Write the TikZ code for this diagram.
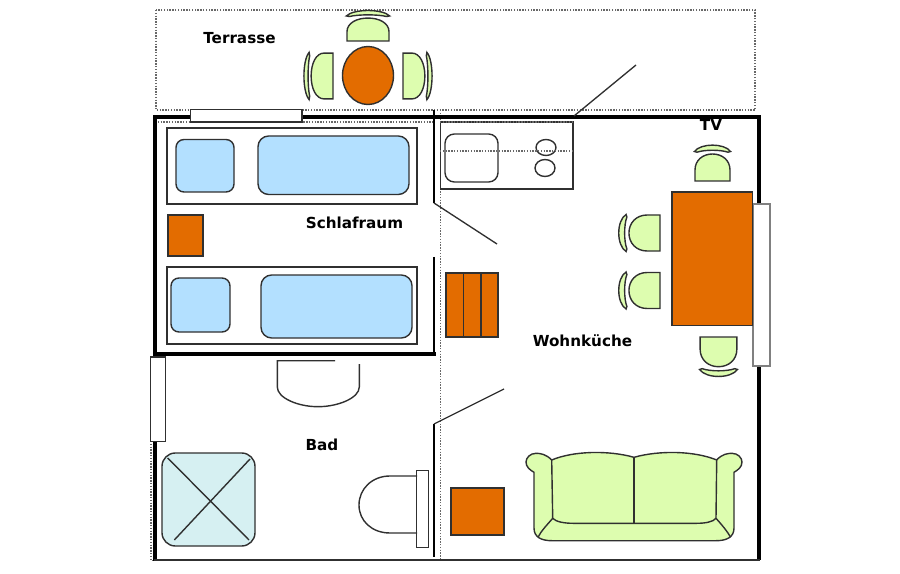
\documentclass[tikz,border=0pt]{standalone}
\usepackage{fontspec}
\setmainfont{DejaVu Sans}
\definecolor{orangef}{HTML}{E36C00}
\definecolor{greenf}{HTML}{DDFDAF}
\definecolor{bluef}{HTML}{B3E0FF}
\definecolor{showerf}{HTML}{D6F0F2}
\definecolor{ink}{HTML}{303030}
\definecolor{dotc}{HTML}{686868}
\tikzset{
  wall/.style={line width=2.6pt,black},
  thinwall/.style={line width=2.1pt,black},
  dotline/.style={line width=0.9pt,dotc,dash pattern=on 1pt off 1.1pt},
  outline/.style={line width=1.05pt,ink},
  orangebox/.style={outline,fill=orangef},
  greenbox/.style={outline,fill=greenf},
  bluebox/.style={outline,fill=bluef,rounded corners=6pt},
  windowbox/.style={line width=1pt,ink,fill=white},
  doorline/.style={line width=1pt,ink},
  roomlabel/.style={font=\bfseries\fontsize{11.4}{13}\selectfont,text=black,inner sep=0pt},
}
\newcommand{\chairat}[6]{%
  \begin{scope}[shift={(#1,#2)},rotate=#3,xscale=#4,yscale=#5]
    \draw[greenbox,#6] (-17.5,0) -- (17.5,0) -- (17.5,-11) .. controls (17.5,-21) and (9.5,-27) .. (0,-27) .. controls (-9.5,-27) and (-17.5,-21) .. (-17.5,-11) -- cycle;
    \draw[greenbox,#6] (-18,-29.5) .. controls (-12,-38) and (12,-38) .. (18,-29.5) -- (15.5,-28.8) .. controls (8,-31.4) and (-8,-31.4) .. (-15.5,-28.8) -- cycle;
  \end{scope}}
\begin{document}
\begin{tikzpicture}[x=0.75pt,y=-0.75pt]
\useasboundingbox (0,0) rectangle (900,574);
% dotted outlines
\draw[dotline] (156,10) rectangle (755,110);
\draw[dotline] (155,122) -- (434,122);
\draw[dotline] (440.5,110) -- (440.5,560);
\draw[dotline] (151,357) -- (151,560.5) -- (440,560.5);
% walls
\draw[wall] (155,117) -- (759,117);
\draw[wall] (155,115.5) -- (155,356);
\draw[wall] (153.5,354) -- (435.5,354);
\draw[wall] (155,440) -- (155,561);
\draw[wall] (759,115.5) -- (759,206);
\draw[wall] (759,364) -- (759,560);
\draw[thinwall] (434,110) -- (434,203);
\draw[thinwall] (434,257) -- (434,355);
\draw[thinwall] (434,424) -- (434,557);
\draw[line width=1.2pt,ink] (154,560) -- (760,560);
% doors
\draw[doorline] (574,116) -- (636,65);
\draw[doorline] (434,203) -- (497,244);
\draw[doorline] (434,424) -- (504,389);
% windows
\draw[windowbox] (190.5,109.5) rectangle (302,122);
\draw[windowbox] (150.5,357) rectangle (165.5,441.5);
\draw[windowbox,draw=gray] (753,204) rectangle (770,366);
% terrace table
\draw[orangebox] (368,75.5) ellipse [x radius=25.5,y radius=29];
\chairat{368}{41}{0}{1.2}{0.85}{}
\chairat{333}{76}{90}{1.31}{0.81}{}
\chairat{403}{76}{-90}{1.31}{0.81}{}
% beds
\draw[outline] (167,128) rectangle (417,204);
\draw[bluebox] (176,139.5) rectangle (234,192);
\draw[bluebox,rounded corners=8pt] (258,136) rectangle (409,194.5);
\draw[outline] (167,267) rectangle (417,344);
\draw[bluebox] (171,278) rectangle (230,332);
\draw[bluebox,rounded corners=8pt] (261,275) rectangle (412,338);
\draw[orangebox] (168,215) rectangle (203,256);
% kitchen
\draw[outline] (440.5,122) rectangle (573,189);
\draw[outline,rounded corners=7pt] (445,134) rectangle (498,182);
\draw[outline] (546,147.5) ellipse [x radius=10,y radius=8];
\draw[outline] (545,168) ellipse [x radius=10,y radius=8.5];
\draw[dotline] (440,151) -- (573,151);
\draw[dotline] (440,122) -- (573,122);
% dining
\draw[orangebox] (672,192) rectangle (752.5,325.5);
\chairat{712.5}{181}{0}{1}{1}{}
\chairat{660}{233}{90}{1.03}{1.15}{}
\chairat{660}{290.5}{90}{1.03}{1.15}{}
\chairat{718.5}{337}{180}{1.05}{1.1}{}
% stack and side table
\draw[orangebox] (446,273) rectangle (498,337);
\draw[outline] (463.5,273) -- (463.5,337);
\draw[outline] (481,273) -- (481,337);
\draw[orangebox] (451,488) rectangle (504,535);
% bath
\draw[outline] (335,360.7) -- (277.3,360.7) -- (277.3,387) .. controls (277.3,398) and (298,406.7) .. (318,406.7) .. controls (338,406.7) and (359.3,398) .. (359.3,387) -- (359.3,364);
\draw[outline,fill=showerf,rounded corners=10pt] (162,453) rectangle (255,546);
\draw[outline] (167.7,458) -- (249,540);
\draw[outline] (174.3,540) -- (250,459);
\draw[outline] (417,476) -- (390,476) .. controls (372,476) and (359,489) .. (359,505) .. controls (359,521) and (372,533) .. (390,533) -- (417,533);
\draw[outline] (416.7,470.7) rectangle (428.7,547.7);
% sofa
\draw[greenbox] (551.7,460) .. controls (546,454) and (540,453.3) .. (536,453.3) .. controls (530,453.3) and (526,458) .. (526,462) .. controls (526,467) and (530,470) .. (534,472.3) -- (534,528) .. controls (534,537) and (541,540.7) .. (552,540.7) -- (716,540.7) .. controls (727,540.7) and (734,537) .. (734,528) -- (734,472.3) .. controls (738,470) and (742,467) .. (742,462) .. controls (742,458) and (738,453.3) .. (732,453.3) .. controls (728,453.3) and (722,454) .. (716.7,460) .. controls (695,451) and (660,450) .. (634,457.3) .. controls (608,450) and (573,451) .. (551.7,460) -- cycle;
\draw[outline] (551.7,460) -- (552.7,518.3) .. controls (556,522) and (565,523.3) .. (573,523.3) -- (696.7,523.3) .. controls (705,523.3) and (713,522) .. (716,518.3) -- (716.7,460);
\draw[outline] (634,457.3) -- (634,523.3);
\draw[outline] (552.7,518.3) .. controls (547,525) and (541,531) .. (538,537.3);
\draw[outline] (716,518.3) .. controls (722,525) and (727,531) .. (730.7,537.3);
% labels
\node[roomlabel] (terrasse) at (239.5,38) {Terrasse};
\node[roomlabel] (tv) at (711,125) {TV};
\node[roomlabel] (schlafraum) at (354.5,223) {Schlafraum};
\node[roomlabel] (wohnkueche) at (582.5,340.5) {Wohnküche};
\node[roomlabel] (bad) at (322,445) {Bad};
\end{tikzpicture}
\end{document}
